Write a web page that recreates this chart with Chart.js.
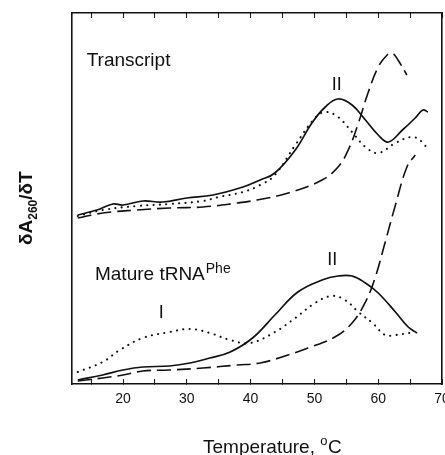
<!DOCTYPE html>
<html><head><meta charset="utf-8">
<script src="https://cdn.jsdelivr.net/npm/chart.js@4"></script>
<style>html,body{margin:0;padding:0;background:#fff;overflow:hidden}canvas{display:block}</style>
</head><body>
<canvas id="c" width="445" height="455"></canvas>
<script>
// Temperature (°C) and dA260/dT (arbitrary units)
const transcriptSolidT = [12.9, 15.9, 18.4, 20.0, 23.1, 26.2, 30.0, 34.1, 38.8, 41.5, 43.8, 47.0, 49.6, 51.7, 53.7, 55.9, 58.0, 60.0, 61.6, 63.8, 65.8, 67.0, 67.8];
const transcriptSolidA = [169, 174, 180, 179, 183, 182, 186, 189, 197, 204, 211, 234, 261, 277, 285, 279, 264, 249, 242, 254, 266, 274, 272];

const transcriptDotT = [12.9, 16.8, 22.2, 27.3, 32.5, 35.0, 38.8, 41.5, 43.8, 47.0, 50.1, 51.7, 53.7, 55.9, 58.0, 60.0, 62.7, 65.3, 66.9, 67.8];
const transcriptDotA = [168, 174, 178, 180, 183, 187, 192, 199, 209, 239, 266, 272, 267, 252, 237, 231, 241, 247, 242, 234];

const transcriptDashT = [12.9, 16.8, 22.2, 27.3, 32.5, 37.9, 41.0, 45.9, 51.2, 53.7, 55.3, 56.9, 58.4, 60.0, 61.4, 62.2, 63.1, 64.5];
const transcriptDashA = [166, 171, 174, 176, 177, 181, 184, 191, 204, 217, 234, 261, 291, 317, 329, 331, 324, 309];

const matureSolidT = [12.9, 16.8, 20.0, 23.1, 27.3, 30.5, 33.6, 36.8, 40.3, 43.8, 47.4, 51.2, 53.7, 55.9, 58.0, 60.0, 62.7, 64.7, 66.1];
const matureSolidA = [4, 9, 14, 17, 18, 21, 26, 32, 46, 69, 92, 104, 108, 108, 101, 91, 72, 57, 51];

const matureDotT = [12.9, 16.8, 19.5, 23.1, 27.3, 30.5, 33.6, 36.8, 39.9, 43.8, 47.0, 50.1, 52.7, 54.8, 56.9, 59.1, 61.1, 62.7, 65.8];
const matureDotA = [12, 22, 34, 46, 52, 55, 51, 44, 41, 52, 66, 81, 88, 84, 72, 61, 49, 49, 52];

const matureDashT = [12.9, 16.8, 20.0, 23.1, 27.3, 32.5, 37.9, 41.5, 44.9, 49.0, 53.2, 55.9, 58.0, 59.5, 61.1, 62.7, 64.5, 65.8];
const matureDashA = [3, 6, 9, 13, 14, 16, 19, 21, 27, 36, 47, 61, 82, 106, 142, 179, 217, 229];

const xMin = 12, xMax = 70, xStep = 5;
const yMin = 0, yMax = 371;

const INK = '#111';
const FONT = '"Liberation Sans", Arial, Helvetica, sans-serif';

function pts(t, a) { return t.map((v, i) => ({x: v, y: a[i]})); }
function ds(t, a, style) {
  const base = {data: pts(t, a), borderColor: INK, pointRadius: 0, showLine: true, fill: false,
    tension: 0.4, borderWidth: 1.7};
  if (style === 'dot') Object.assign(base, {borderDash: [0.1, 6.3], borderCapStyle: 'round', borderWidth: 2.1});
  if (style === 'dash') Object.assign(base, {borderDash: [14, 6], borderWidth: 1.6});
  return base;
}

const labelPlugin = {
  id: 'labels',
  afterDraw(chart) {
    const ctx = chart.ctx, xs = chart.scales.x, ys = chart.scales.y;
    const X = v => xs.getPixelForValue(v), Y = v => ys.getPixelForValue(v);
    ctx.save();
    ctx.fillStyle = INK;
    ctx.textBaseline = 'alphabetic';
    ctx.textAlign = 'left';
    ctx.font = '19px ' + FONT;
    ctx.fillText('Transcript', X(14.3), Y(318));
    ctx.fillText('Mature tRNA', X(15.6), Y(104));
    const w = ctx.measureText('Mature tRNA').width;
    ctx.font = '14px ' + FONT;
    ctx.fillText('Phe', X(15.6) + w + 1, Y(111));
    ctx.font = '18px ' + FONT;
    ctx.textAlign = 'center';
    ctx.fillText('II', X(53.5), Y(294));
    ctx.fillText('II', X(52.8), Y(119));
    ctx.fillText('I', X(26.0), Y(66));
    // x axis title
    ctx.textAlign = 'left';
    ctx.font = '19px ' + FONT;
    const t1 = 'Temperature, ';
    let x0 = 203, yb = 453;
    ctx.fillText(t1, x0, yb);
    x0 += ctx.measureText(t1).width;
    ctx.font = '13px ' + FONT;
    ctx.fillText('o', x0, yb - 8);
    x0 += ctx.measureText('o').width + 0.5;
    ctx.font = '19px ' + FONT;
    ctx.fillText('C', x0, yb);
    // y axis title
    ctx.translate(32, 245);
    ctx.rotate(-Math.PI / 2);
    let p = 0;
    ctx.font = 'bold 19px ' + FONT;
    ctx.fillText('δA', p, 0);
    p += ctx.measureText('δA').width;
    ctx.font = 'bold 12px ' + FONT;
    ctx.fillText('260', p, 5);
    p += ctx.measureText('260').width;
    ctx.font = 'bold 19px ' + FONT;
    ctx.fillText('/δT', p, 0);
    ctx.restore();
  }
};

const gridX = {drawOnChartArea: false, drawTicks: true, tickLength: -5, tickColor: '#222', tickWidth: 1.1};
const borderStyle = {display: true, color: INK, width: 1.6};

new Chart(document.getElementById('c'), {
  type: 'scatter',
  data: {datasets: [
    ds(transcriptSolidT, transcriptSolidA, 'solid'),
    ds(transcriptDotT, transcriptDotA, 'dot'),
    ds(transcriptDashT, transcriptDashA, 'dash'),
    ds(matureSolidT, matureSolidA, 'solid'),
    ds(matureDotT, matureDotA, 'dot'),
    ds(matureDashT, matureDashA, 'dash')
  ]},
  options: {
    responsive: false,
    animation: false,
    devicePixelRatio: 1,
    layout: {padding: {top: 13, right: 3, left: 0, bottom: 0}},
    plugins: {legend: {display: false}, tooltip: {enabled: false}},
    scales: {
      x: {
        type: 'linear', position: 'bottom', min: xMin, max: xMax,
        ticks: {stepSize: xStep, includeBounds: false, color: INK, font: {family: FONT, size: 14}, padding: 12,
          maxRotation: 0, autoSkip: false,
          callback: v => (v % 10 === 0 ? String(v) : '')},
        grid: gridX, border: borderStyle,
        afterFit: s => { s.height = 71; s.paddingLeft = 0; s.paddingRight = 0; }
      },
      x2: {
        type: 'linear', position: 'top', min: xMin, max: xMax,
        ticks: {stepSize: xStep, includeBounds: false, display: false},
        grid: gridX, border: borderStyle,
        afterFit: s => { s.height = 0; s.paddingLeft = 0; s.paddingRight = 0; }
      },
      y: {
        type: 'linear', position: 'left', min: yMin, max: yMax,
        ticks: {display: false},
        grid: {drawOnChartArea: false, drawTicks: false},
        border: borderStyle,
        afterFit: s => { s.width = 72; s.paddingTop = 0; s.paddingBottom = 0; }
      },
      y2: {
        type: 'linear', position: 'right', min: yMin, max: yMax,
        ticks: {display: false},
        grid: {drawOnChartArea: false, drawTicks: false},
        border: borderStyle,
        afterFit: s => { s.width = 0; s.paddingTop = 0; s.paddingBottom = 0; }
      }
    }
  },
  plugins: [labelPlugin]
});
</script></body></html>
